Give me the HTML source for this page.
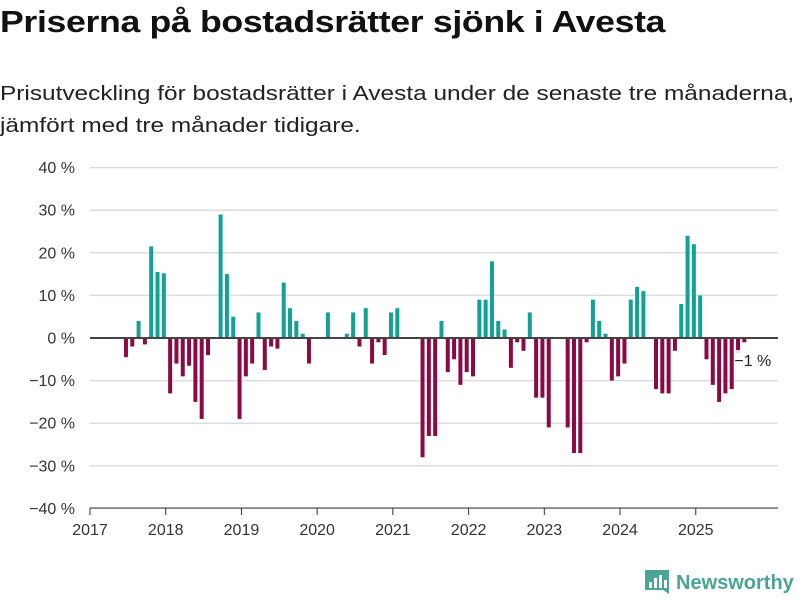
<!DOCTYPE html>
<html><head><meta charset="utf-8"><style>
body{margin:0;width:800px;height:600px;background:#fff;font-family:"Liberation Sans",sans-serif;overflow:hidden;position:relative}
h1{position:absolute;left:0;top:4px;margin:0;font-size:31px;font-weight:bold;color:#111;letter-spacing:-0.3px;transform:scaleX(1.15);transform-origin:0 0;white-space:nowrap}
p{position:absolute;left:0;top:78px;margin:0;font-size:20.5px;line-height:32px;color:#222;transform:scaleX(1.19);transform-origin:0 0;white-space:nowrap}
svg{position:absolute;left:0;top:0}
</style></head><body>
<h1>Priserna på bostadsrätter sjönk i Avesta</h1>
<p>Prisutveckling för bostadsrätter i Avesta under de senaste tre månaderna,<br>jämfört med tre månader tidigare.</p>
<svg id="c" width="800" height="600"></svg>
<script>
const months=[5,6,7,8,9,10,11,12,13,14,15,16,17,18,20,21,22,23,24,25,26,27,28,29,30,31,32,33,34,37,40,41,42,43,44,45,46,47,48,52,53,54,55,56,57,58,59,60,61,62,63,64,65,66,67,68,69,70,71,72,75,76,77,78,79,80,81,82,83,84,85,86,87,89,90,91,92,93,94,95,96,97,98,99,100,101,102,103];
const values=[-4.5,-2,4,-1.5,21.5,15.5,15.2,-13,-6,-9,-6.5,-15,-19,-4,29,15,5,-19,-9,-6,6,-7.5,-2,-2.5,13,7,4,1,-6,6,1,6,-2,7,-6,-1,-4,6,7,-28,-23,-23,4,-8,-5,-11,-8,-9,9,9,18,4,2,-7,-1,-3,6,-14,-14,-21,-21,-27,-27,-1,9,4,1,-10,-9,-6,9,12,11,-12,-13,-13,-3,8,24,22,10,-5,-11,-15,-13,-12,-3.5,-1];
const yTicks=[40,30,20,10,0,-10,-20,-30,-40];
const years=[2017,2018,2019,2020,2021,2022,2023,2024,2025];
const svg=document.getElementById('c');const NS='http://www.w3.org/2000/svg';
const y=v=>338-v*4.26;
const x=m=>90+m*6.31;
function el(t,a,txt){const e=document.createElementNS(NS,t);for(const k in a)e.setAttribute(k,a[k]);if(txt!=null)e.textContent=txt;svg.appendChild(e);return e;}
yTicks.forEach(t=>{
 const g=el('line',{x1:90,x2:778,y1:y(t),y2:y(t),stroke:'#ddd','stroke-width':1.5});
 
 
 const l=el('text',{x:75,y:y(t)+5.5,'text-anchor':'end','font-size':16,fill:'#333'},(t<0?'−'+(-t):t)+' %');
 
 
});
years.forEach((yr,i)=>{
 const xx=x(i*12);
 const tk=el('line',{x1:xx,x2:xx,y1:508,y2:515,stroke:'#333','stroke-width':1});
 
 
 const l=el('text',{x:xx,y:535,'text-anchor':'middle','font-size':16,fill:'#333'},yr);
 
 
});
const ax=el('line',{x1:90,x2:778,y1:508,y2:508,stroke:'#333','stroke-width':1});


months.forEach((m,i)=>{
 const v=values[i];const cx=x(m+0.7);
 const r=el('rect',{x:cx-2,width:4,y:Math.min(y(v),y(0)),height:Math.abs(y(v)-y(0)),fill:v>=0?'#12a195':'#8c0a44'});
 
 
});
const z=el('line',{x1:90,x2:778,y1:338,y2:338,stroke:'#444','stroke-width':2});


const lastX=x(months[months.length-1]+0.7);
const bg=el('rect',{x:lastX-10,y:350,width:30,height:18,fill:'#fff',opacity:0.85});


const lb=el('text',{x:lastX-10,y:366,'font-size':16,fill:'#222'},'−1 %');


const lg=el('g',{});


const ic=document.createElementNS(NS,'path');ic.setAttribute('d','M645 570h24v24l-6-4h-18z');ic.setAttribute('fill','#4aa597');lg.appendChild(ic);
[[649,582,3,6],[654,578,3,10],[659,575,3,13],[664,580,3,8]].forEach(b=>{const r=document.createElementNS(NS,'rect');r.setAttribute('x',b[0]);r.setAttribute('y',b[1]);r.setAttribute('width',b[2]);r.setAttribute('height',b[3]);r.setAttribute('fill','#fff');lg.appendChild(r);});
const tt=document.createElementNS(NS,'text');tt.setAttribute('x',676);tt.setAttribute('y',589);tt.setAttribute('font-size',20);tt.setAttribute('font-weight','bold');tt.setAttribute('fill','#4aa597');tt.textContent='Newsworthy';lg.appendChild(tt);
</script>
</body></html>
